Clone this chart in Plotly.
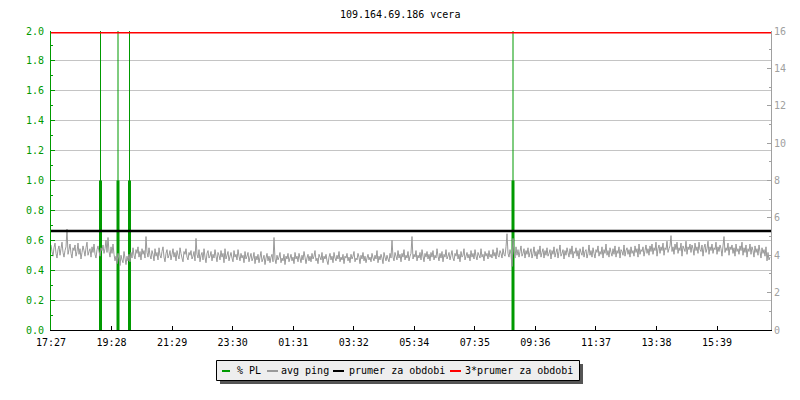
import plotly.graph_objects as go

# ---------------- data ----------------
title_text = "109.164.69.186 vcera"

period_minutes = 1440          # 24 h window, starting 17:27
sample_step_minutes = 2        # avg ping sampled every 2 minutes

# avg ping (right axis, ms)
avg_ping = [
    4.55, 4.20, 3.95, 4.40, 4.65, 4.10, 3.85, 4.30, 4.50, 4.00, 4.35, 4.70, 4.15, 3.90, 4.25, 4.45, 5.40, 4.05, 4.30, 4.60,
    4.10, 3.85, 4.40, 4.25, 4.55, 3.95, 4.20, 4.65, 4.05, 4.35, 3.80, 4.15, 4.50, 4.25, 3.95, 4.40, 4.70, 4.00, 4.20, 4.35,
    3.90, 4.45, 4.15, 4.60, 4.05, 3.85, 4.30, 4.50, 4.20, 3.95, 4.40, 4.25, 4.55, 4.10, 4.35, 4.80, 4.15, 4.95, 4.20, 3.90,
    4.45, 4.10, 4.60, 4.05, 3.70, 3.95, 3.55, 4.10, 3.80, 3.45, 4.00, 3.75, 3.60, 4.20, 3.85, 3.50, 3.95, 3.70, 4.05, 3.65,
    4.15, 3.85, 4.40, 4.00, 3.80, 4.30, 4.10, 4.45, 3.90, 4.20, 3.75, 4.35, 4.05, 4.25, 3.85, 5.00, 4.15, 3.90, 4.40, 4.00,
    3.80, 4.25, 4.05, 3.70, 4.35, 3.95, 4.15, 3.75, 4.40, 4.00, 3.85, 4.20, 4.45, 3.90, 3.65, 4.10, 4.30, 3.85, 4.00, 4.25,
    3.75, 4.05, 4.35, 3.90, 4.15, 3.70, 4.25, 4.00, 3.80, 4.40, 4.10, 3.85, 3.65, 4.20, 4.05, 4.35, 3.90, 3.75, 4.15, 4.00,
    4.25, 3.80, 3.95, 4.20, 3.70, 4.90, 4.05, 3.85, 4.30, 3.65, 4.00, 4.15, 3.75, 4.35, 3.90, 3.60, 4.10, 4.25, 3.85, 3.95,
    4.20, 3.70, 4.05, 3.85, 4.30, 3.95, 3.65, 4.15, 4.00, 3.75, 4.25, 3.90, 4.10, 3.60, 4.35, 3.80, 4.00, 4.20, 3.70, 3.95,
    4.15, 3.85, 3.65, 4.25, 3.90, 4.05, 3.75, 4.30, 3.95, 3.70, 4.10, 3.85, 4.00, 3.60, 4.20, 3.80, 3.95, 4.15, 3.65, 3.90,
    4.10, 3.70, 3.85, 4.15, 3.55, 3.95, 3.75, 4.05, 3.60, 3.90, 4.20, 3.65, 3.80, 4.00, 3.50, 3.85, 4.10, 3.70, 3.95, 3.60,
    3.90, 4.05, 3.65, 4.95, 3.80, 3.55, 4.00, 3.75, 3.90, 4.15, 3.60, 3.85, 3.70, 4.05, 3.50, 3.95, 3.80, 4.10, 3.65, 3.85,
    4.05, 3.70, 3.90, 3.55, 4.15, 3.80, 3.95, 3.65, 4.10, 3.85, 3.60, 4.00, 3.75, 4.20, 3.90, 3.55, 3.85, 4.05, 3.70, 3.95,
    3.65, 4.10, 3.80, 3.95, 4.25, 3.70, 3.85, 3.55, 4.05, 3.90, 3.75, 4.15, 3.60, 3.95, 3.80, 4.05, 3.70, 3.50, 3.90, 4.10,
    3.75, 3.95, 3.60, 4.15, 3.85, 3.70, 4.00, 3.80, 4.20, 3.65, 3.90, 3.75, 4.05, 3.55, 3.95, 3.85, 4.10, 3.70, 3.90, 3.60,
    4.05, 3.80, 3.95, 4.20, 3.65, 3.85, 3.75, 4.10, 3.90, 3.55, 4.00, 3.80, 4.15, 3.70, 3.95, 3.60, 3.85, 4.05, 3.75, 3.90,
    3.65, 4.10, 3.85, 3.70, 4.00, 3.80, 4.25, 3.60, 3.95, 3.75, 4.05, 3.85, 3.55, 4.15, 3.90, 3.70, 4.00, 3.80, 3.65, 4.10,
    3.85, 4.80, 3.90, 3.70, 4.15, 3.95, 3.75, 4.25, 3.85, 4.05, 3.65, 4.10, 3.90, 4.30, 3.75, 4.00, 3.85, 4.20, 3.70, 3.95,
    4.10, 5.00, 3.80, 4.05, 3.90, 4.25, 3.70, 4.00, 3.85, 4.15, 3.75, 4.30, 3.95, 3.65, 4.10, 3.90, 4.20, 3.80, 4.05, 3.70,
    4.15, 3.90, 4.25, 3.75, 4.00, 3.85, 4.35, 3.95, 3.70, 4.10, 3.85, 4.20, 3.65, 4.05, 3.90, 4.30, 3.80, 3.95, 4.15, 3.75,
    4.00, 4.25, 3.85, 3.70, 4.10, 3.95, 4.30, 3.80, 4.05, 3.65, 4.20, 3.90, 4.00, 4.35, 3.75, 3.95, 4.15, 3.85, 4.05, 3.70,
    4.25, 3.90, 4.10, 3.80, 4.30, 3.95, 3.75, 4.15, 4.00, 3.85, 4.35, 3.90, 4.05, 3.70, 4.20, 3.95, 4.10, 3.80, 4.25, 3.90,
    4.05, 3.85, 4.30, 3.95, 4.15, 3.80, 4.40, 4.00, 3.90, 4.25, 4.10, 3.85, 4.35, 4.05, 3.95, 4.45, 5.15, 4.10, 3.90, 4.30,
    4.05, 3.40, 4.90, 4.15, 3.85, 4.45, 4.00, 4.30, 3.90, 4.20, 4.50, 3.95, 4.10, 4.35, 3.85, 4.25, 4.05, 4.40, 3.90, 4.15,
    4.35, 3.85, 4.10, 4.45, 3.95, 4.20, 3.80, 4.30, 4.05, 4.50, 3.90, 4.15, 4.35, 3.85, 4.25, 4.00, 4.40, 3.95, 4.10, 4.30,
    3.80, 4.25, 4.05, 4.45, 3.90, 4.15, 4.35, 3.85, 4.20, 4.55, 3.95, 4.10, 4.30, 3.80, 4.25, 4.00, 4.40, 4.15, 3.90, 4.35,
    4.05, 4.50, 3.85, 4.20, 4.10, 4.40, 3.95, 4.25, 3.80, 4.35, 4.15, 4.00, 4.45, 3.90, 4.20, 4.30, 3.85, 4.10, 4.55, 4.00,
    4.25, 3.90, 4.40, 4.10, 3.85, 4.30, 4.15, 4.50, 3.95, 4.20, 4.05, 4.45, 3.85, 4.30, 4.10, 4.60, 4.00, 4.25, 3.90, 4.40,
    4.15, 3.95, 4.35, 4.05, 4.50, 3.90, 4.25, 4.10, 4.45, 3.85, 4.30, 4.20, 4.00, 4.55, 3.95, 4.25, 4.40, 4.05, 4.30, 3.90,
    4.45, 4.10, 4.25, 3.95, 4.50, 4.15, 4.35, 3.90, 4.60, 4.05, 4.30, 4.20, 4.45, 3.95, 4.25, 4.55, 4.10, 4.35, 4.00, 4.50,
    4.20, 4.60, 4.05, 4.40, 4.25, 4.70, 3.95, 4.35, 4.55, 4.10, 4.45, 4.25, 4.65, 4.00, 4.40, 4.30, 4.75, 4.15, 4.35, 4.50,
    5.05, 4.20, 4.45, 4.05, 4.60, 4.30, 4.70, 4.10, 4.40, 4.25, 4.65, 3.95, 4.50, 4.35, 4.20, 4.75, 4.05, 4.45, 4.30, 4.60,
    4.15, 4.55, 4.35, 4.00, 4.65, 4.25, 4.45, 4.10, 4.70, 4.30, 4.20, 4.55, 3.95, 4.40, 4.60, 4.15, 4.35, 4.75, 4.05, 4.45,
    4.25, 4.60, 4.10, 4.40, 4.30, 4.70, 4.05, 4.45, 4.20, 4.55, 4.35, 3.95, 4.50, 5.00, 4.15, 4.40, 4.25, 4.65, 4.00, 4.45,
    4.30, 4.55, 4.10, 4.40, 3.95, 4.60, 4.20, 4.35, 4.05, 4.50, 4.25, 4.70, 4.00, 4.40, 4.15, 4.55, 3.90, 4.35, 4.20, 4.60,
    4.05, 4.45, 4.25, 3.90, 4.50, 4.15, 4.35, 4.00, 4.55, 4.20, 3.85, 4.40, 4.10, 4.30, 3.95, 4.45, 3.70, 4.15, 3.75, 3.90,
]

avg_ping_period_mean = 5.3     # "prumer za obdobi" (right axis)
mean_multiplier = 3            # "3*prumer za obdobi"

# packet loss (left axis, %)
pl_minutes = [99, 134, 157, 924]
pl_values = [1.0, 1.0, 1.0, 1.0]
pl_peak_values = [100, 100, 100, 100]   # clipped by the 0..2 axis

x_tick_labels = ["17:27", "19:28", "21:29", "23:30", "01:31", "03:32",
                 "05:34", "07:35", "09:36", "11:37", "13:38", "15:39"]
x_tick_interval_minutes = 121.1

legend_labels = ["% PL", "avg ping", "prumer za obdobi", "3*prumer za obdobi"]

# ---------------- style ----------------
GREEN = "#009900"
PING_GRAY = "#999999"
GRID = "#c4c4c4"
RIGHT_GRAY = "#a0a0a0"
RED = "#ff0000"
FONT = "DejaVu Sans Mono"

# page body has an 8px margin; compensate so the plot lands where the reference has it
OFF = 8
W, H = 800 - OFF, 400 - OFF
PLOT_L, PLOT_T, PLOT_W, PLOT_H = 51, 31, 720, 299
L, T = PLOT_L - OFF, PLOT_T - OFF
R = W - L - PLOT_W
B = H - T - PLOT_H


def px(xp):
    return (xp - PLOT_L) / PLOT_W


def py(yp):
    return (PLOT_T + PLOT_H - yp) / PLOT_H


ping_minutes = [i * sample_step_minutes for i in range(len(avg_ping))]

thin_x, thin_y, thick_x, thick_y = [], [], [], []
for m, v, pk in zip(pl_minutes, pl_values, pl_peak_values):
    thin_x += [m, m, None]
    thin_y += [0, pk, None]
    thick_x += [m, m, None]
    thick_y += [0, v, None]

fig = go.Figure()

fig.add_trace(go.Scatter(x=ping_minutes, y=avg_ping, yaxis="y2", mode="lines",
                         line=dict(color=PING_GRAY, width=1, simplify=False), showlegend=False,
                         name=legend_labels[1], hoverinfo="skip"))
fig.add_trace(go.Scatter(x=[0, period_minutes], y=[avg_ping_period_mean] * 2, yaxis="y2",
                         mode="lines", line=dict(color="black", width=2.5),
                         showlegend=False, name=legend_labels[2]))
fig.add_trace(go.Scatter(x=[0, period_minutes],
                         y=[mean_multiplier * avg_ping_period_mean] * 2, yaxis="y2",
                         mode="lines", line=dict(color=RED, width=1.5),
                         showlegend=False, name=legend_labels[3]))
fig.add_trace(go.Scatter(x=thick_x, y=thick_y, mode="lines",
                         line=dict(color=GREEN, width=3), showlegend=False,
                         name=legend_labels[0]))
fig.add_trace(go.Scatter(x=thin_x, y=thin_y, mode="lines",
                         line=dict(color=GREEN, width=1), showlegend=False,
                         name=legend_labels[0]))

tick_vals = [k * x_tick_interval_minutes for k in range(len(x_tick_labels))]

fig.update_layout(
    width=W, height=H,
    margin=dict(l=L, r=R, t=T, b=B, autoexpand=False),
    paper_bgcolor="white", plot_bgcolor="white",
    font=dict(family=FONT, size=10, color="black"),
    showlegend=False,
    xaxis=dict(range=[0, period_minutes], tickvals=tick_vals, ticktext=x_tick_labels,
               ticks="inside", ticklen=4, tickcolor="black", showline=True,
               linecolor="black", linewidth=1, showgrid=False, zeroline=False,
               ticklabelstandoff=3,
               tickfont=dict(family=FONT, size=10, color="black")),
    yaxis=dict(range=[0, 2], dtick=0.2, tick0=0, tickformat=".1f",
               ticks="inside", ticklen=4, tickcolor=GREEN,
               minor=dict(dtick=0.1, ticks="inside", ticklen=2, tickcolor=GREEN),
               showline=True, linecolor=GREEN, linewidth=1,
               showgrid=True, gridcolor=GRID, gridwidth=1, zeroline=False,
               ticklabelstandoff=4,
               tickfont=dict(family=FONT, size=10, color=GREEN)),
    yaxis2=dict(range=[0, 16], dtick=2, tick0=0, overlaying="y", side="right",
                ticks="inside", ticklen=4, tickcolor=RIGHT_GRAY,
                minor=dict(dtick=1, ticks="inside", ticklen=2, tickcolor=RIGHT_GRAY),
                showline=True, linecolor=RIGHT_GRAY, linewidth=1,
                showgrid=False, zeroline=False,
                tickfont=dict(family=FONT, size=10, color=RIGHT_GRAY)),
)

# title
fig.add_annotation(text=title_text, xref="paper", yref="paper", x=px(400), y=py(14),
                   xanchor="center", yanchor="middle", showarrow=False,
                   font=dict(family=FONT, size=10, color="black"))

# manual legend box with shadow
fig.add_shape(type="rect", xref="paper", yref="paper", x0=px(220), x1=px(583),
              y0=py(384), y1=py(364), fillcolor="#555555", line=dict(width=0), layer="above")
fig.add_shape(type="rect", xref="paper", yref="paper", x0=px(216.5), x1=px(579.5),
              y0=py(380.5), y1=py(360.5), fillcolor="#eeeeee",
              line=dict(color="black", width=1), layer="above")

legend_colors = [GREEN, PING_GRAY, "black", RED]
legend_line_x = [(222, 230), (267, 278), (333, 344), (450, 461)]
legend_text_x = [236, 280, 348, 464]
for lab, col, (a, b), tx in zip(legend_labels, legend_colors, legend_line_x, legend_text_x):
    fig.add_shape(type="line", xref="paper", yref="paper", x0=px(a), x1=px(b),
                  y0=py(371), y1=py(371), line=dict(color=col, width=2), layer="above")
    fig.add_annotation(text=lab, xref="paper", yref="paper", x=px(tx), y=py(370.5),
                       xanchor="left", yanchor="middle", showarrow=False,
                       borderpad=0, font=dict(family=FONT, size=10, color="black"))

fig.write_html("out.html")
